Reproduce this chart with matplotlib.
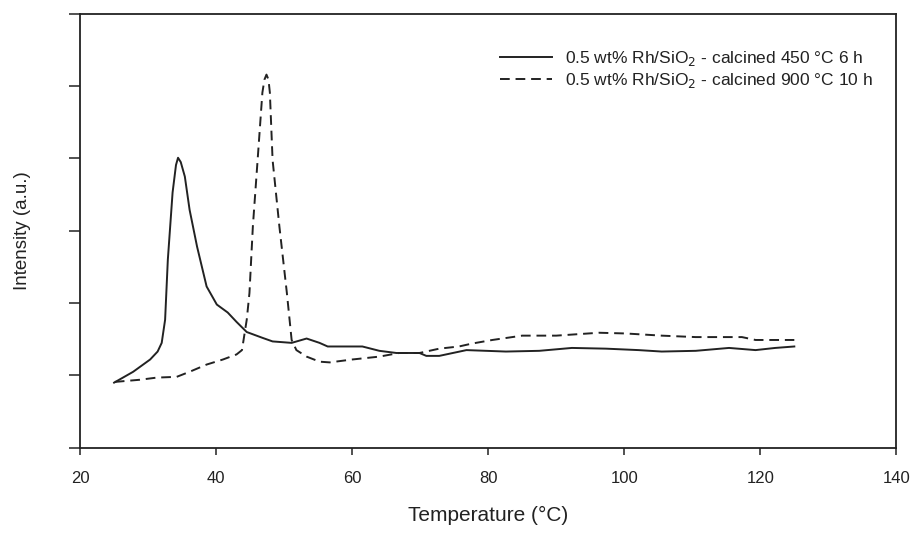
import matplotlib
matplotlib.use("Agg")
import matplotlib.pyplot as plt
import numpy as np

plt.rcParams['font.family'] = ['Liberation Sans', 'DejaVu Sans']

# calcined 450 C 6 h (solid)
temp_450 = [25.0, 27.8, 30.3, 31.4, 32.0, 32.5, 32.9, 33.6, 34.1, 34.4, 34.8, 35.4,
            36.1, 37.2, 38.6, 40.1, 41.7, 43.0, 44.5, 46.8, 48.3, 51.1, 53.3, 55.2,
            56.4, 61.5, 64.0, 66.5, 69.9, 70.9, 72.8, 76.8, 82.6, 87.5, 92.3, 97.3,
            102.1, 105.5, 110.5, 115.4, 119.3, 122.2, 125.0]
int_450 = [0.90, 1.05, 1.22, 1.33, 1.45, 1.77, 2.60, 3.53, 3.91, 4.01, 3.95, 3.75,
           3.29, 2.78, 2.23, 1.98, 1.87, 1.74, 1.60, 1.52, 1.47, 1.45, 1.51, 1.45,
           1.40, 1.40, 1.34, 1.31, 1.31, 1.27, 1.27, 1.35, 1.33, 1.34, 1.38, 1.37,
           1.35, 1.33, 1.34, 1.38, 1.35, 1.38, 1.40]

# calcined 900 C 10 h (dashed)
temp_900 = [25.1, 28.8, 31.3, 34.2, 36.1, 38.6, 41.0, 43.0, 43.8, 44.2, 44.5, 44.9,
            45.4, 46.1, 46.8, 47.1, 47.4, 47.7, 47.9, 48.3, 49.3, 50.4, 51.1, 51.8,
            53.3, 55.2, 56.7, 60.0, 64.0, 66.9, 69.9, 72.8, 75.7, 77.6, 80.6, 85.0,
            90.0, 96.3, 100.2, 105.5, 110.5, 117.3, 119.3, 125.0]
int_900 = [0.91, 0.94, 0.97, 0.98, 1.05, 1.15, 1.22, 1.29, 1.35, 1.59, 1.77, 2.14,
           3.06, 3.98, 4.91, 5.09, 5.16, 5.09, 4.91, 3.98, 3.06, 2.14, 1.49, 1.35,
           1.26, 1.19, 1.18, 1.22, 1.26, 1.31, 1.31, 1.37, 1.40, 1.44, 1.49, 1.55,
           1.55, 1.59, 1.58, 1.55, 1.53, 1.53, 1.49, 1.49]

labels = ['0.5 wt% Rh/SiO$_2$ - calcined 450 °C 6 h',
          '0.5 wt% Rh/SiO$_2$ - calcined 900 °C 10 h']
x_ticks = [20, 40, 60, 80, 100, 120, 140]

ink = '#222222'

fig = plt.figure(figsize=(9.1, 5.33), dpi=100)
ax = fig.add_axes([0.088, 0.16, 0.897, 0.814])

ax.plot(temp_450, int_450, '-', color=ink, lw=1.4, label=labels[0])
ax.plot(temp_900, int_900, '--', color=ink, lw=1.4, dashes=(5, 3), label=labels[1])

ax.set_xlim(20, 140)
ax.set_ylim(0, 6)
ax.set_xticks(x_ticks)
ax.set_yticks(np.arange(0, 7))
ax.set_yticklabels([])
ax.tick_params(axis='x', direction='out', length=5, width=1.1, colors=ink,
               labelsize=12, pad=12)
ax.tick_params(axis='y', direction='out', length=8, width=1.1, colors=ink)
for s in ax.spines.values():
    s.set_linewidth(1.3)
    s.set_color(ink)

ax.set_xlabel('Temperature (°C)', fontsize=15, color=ink, labelpad=14)
ax.set_ylabel('Intensity (a.u.)', fontsize=13.5, color=ink, labelpad=24)

ax.legend(loc='upper right', bbox_to_anchor=(0.99, 0.955), frameon=False,
          fontsize=12.5, handlelength=3.0, handletextpad=0.7, labelspacing=0.2,
          labelcolor=ink)

fig.savefig('out.png', dpi=100)
